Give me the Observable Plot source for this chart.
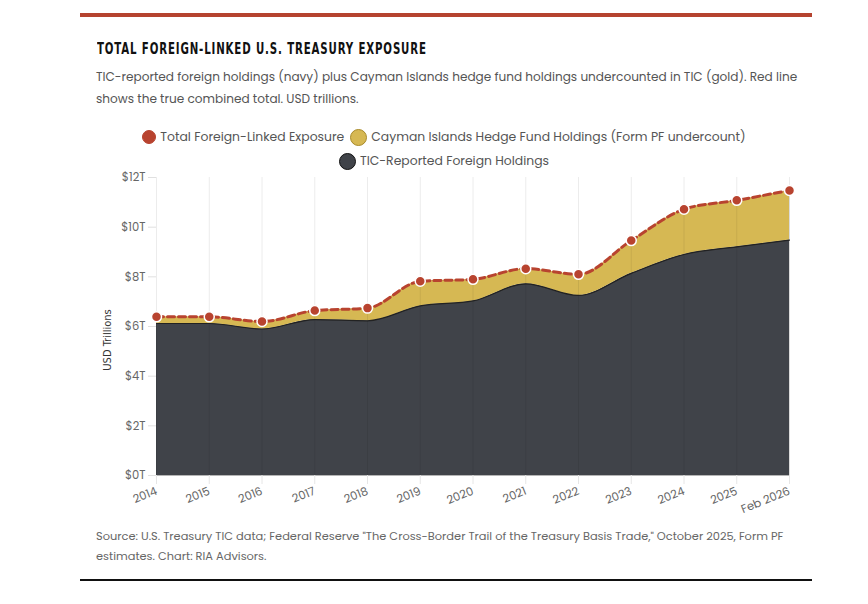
<!DOCTYPE html>
<html>
<head>
<meta charset="utf-8">
<script src="https://cdn.jsdelivr.net/npm/d3@7"></script>
<script src="https://cdn.jsdelivr.net/npm/@observablehq/plot@0.6"></script>
<style>
  html, body { margin: 0; padding: 0; background: #fff; }
  body { width: 868px; height: 604px; position: relative; overflow: hidden; font-family: "Poppins", "Open Sans", sans-serif; }
  .abs { position: absolute; }
  #toprule { left: 80px; top: 13px; width: 732px; height: 4px; background: #b5432f; }
  #botrule { left: 80px; top: 579px; width: 732px; height: 2px; background: #111; }
  #title { left: 97px; top: 39px; font-family: "DejaVu Sans", sans-serif; font-stretch: condensed; font-weight: bold; font-size: 16px; letter-spacing: 1.2px; color: #111; white-space: nowrap; transform: scaleX(0.71); transform-origin: 0 0; }
  #subtitle { left: 96px; top: 66px; width: 720px; font-size: 12.1px; line-height: 22px; color: #555; }
  #legend { left: 96px; width: 696px; top: 125px; font-size: 12.4px; color: #555; text-align: center; line-height: 22px; }
  .row { display: flex; justify-content: center; align-items: center; height: 24px; }
  .item { display: inline-flex; align-items: center; margin: 0 3px; white-space: nowrap; }
  .sw { display: inline-block; border-radius: 50%; margin-right: 4px; box-sizing: border-box; }
  #source { left: 96px; top: 527px; width: 720px; font-size: 11.4px; line-height: 19.5px; color: #666; }
  #ylabel { left: 107px; top: 340px; font-family: "DejaVu Sans", sans-serif; font-stretch: condensed; font-size: 11px; color: #333; transform: translate(-50%, -50%) rotate(-90deg); white-space: nowrap; }
  #chart { left: 0; top: 160px; width: 868px; height: 360px; }
  #chart svg { max-width: none; }
</style>
</head>
<body>
<div id="toprule" class="abs"></div>
<div id="title" class="abs">TOTAL FOREIGN-LINKED U.S. TREASURY EXPOSURE</div>
<div id="subtitle" class="abs">TIC-reported foreign holdings (navy) plus Cayman Islands hedge fund holdings undercounted in TIC (gold). Red line shows the true combined total. USD trillions.</div>
<div id="legend" class="abs"></div>
<div id="chart" class="abs"></div>
<div id="ylabel" class="abs">USD Trillions</div>
<div id="source" class="abs">Source: U.S. Treasury TIC data; Federal Reserve "The Cross-Border Trail of the Treasury Basis Trade," October 2025, Form PF estimates. Chart: RIA Advisors.</div>
<div id="botrule" class="abs"></div>
<script>
// ---- data ----
const years = ["2014","2015","2016","2017","2018","2019","2020","2021","2022","2023","2024","2025","Feb 2026"];
const ticValues = [6.12, 6.12, 5.90, 6.28, 6.23, 6.83, 7.03, 7.72, 7.25, 8.14, 8.90, 9.21, 9.48];
const caymanValues = [0.27, 0.27, 0.30, 0.36, 0.51, 0.99, 0.87, 0.61, 0.85, 1.32, 1.82, 1.87, 2.00];
const yTicks = [0, 2, 4, 6, 8, 10, 12];
const seriesNames = ["Total Foreign-Linked Exposure", "Cayman Islands Hedge Fund Holdings (Form PF undercount)", "TIC-Reported Foreign Holdings"];

// ---- colours ----
const RED = "#b8432f", GOLD = "#d6b853", NAVY = "#404349";

const rows = years.map((y, i) => ({
  year: y,
  tic: ticValues[i],
  cayman: caymanValues[i],
  total: ticValues[i] + caymanValues[i]
}));

// legend
const legendItems = [
  {name: seriesNames[0], fill: RED, stroke: RED, size: 14},
  {name: seriesNames[1], fill: GOLD, stroke: "#a88a2a", size: 17},
  {name: seriesNames[2], fill: NAVY, stroke: "#111", size: 17}
];
const lg = document.getElementById("legend");
const rowEls = [document.createElement("div"), document.createElement("div")];
rowEls.forEach(r => { r.className = "row"; lg.appendChild(r); });
legendItems.forEach((it, i) => {
  const s = document.createElement("span");
  s.className = "item";
  s.innerHTML = `<span class="sw" style="background:${it.fill};border:1.5px solid ${it.stroke};width:${it.size}px;height:${it.size}px"></span>${it.name}`;
  rowEls[i === 2 ? 1 : 0].appendChild(s);
});

const curve = "monotone-x";
const chart = Plot.plot({
  width: 868,
  height: 360,
  marginLeft: 156,
  marginRight: 79,
  marginTop: 17,
  marginBottom: 45,
  style: {fontFamily: "'Poppins','Open Sans',sans-serif", fontSize: "11px", color: "#666", background: "transparent"},
  x: {type: "point", domain: years, padding: 0, round: false, label: null},
  y: {domain: [0, 12], label: null},
  marks: [
    Plot.ruleY(yTicks, {stroke: "#e6e6e6", x1: years[0], x2: years[years.length-1]}),
    Plot.ruleX(years, {stroke: "#ececec", y1: 0, y2: 12}),
    Plot.areaY(rows, {x: "year", y1: 0, y2: "tic", fill: NAVY, curve}),
    Plot.areaY(rows, {x: "year", y1: "tic", y2: "total", fill: GOLD, curve}),
    Plot.ruleX(years, {stroke: "#000", strokeOpacity: 0.07, y1: 0, y2: (d, i) => rows[i].total}),
    Plot.lineY(rows, {x: "year", y: "tic", stroke: "#222", strokeWidth: 1.2, curve}),
    Plot.ruleY([0], {stroke: "#b5b5b5", strokeWidth: 1.2}),
    Plot.lineY(rows, {x: "year", y: "total", stroke: RED, strokeWidth: 3, strokeDasharray: "7,4", curve}),
    Plot.dot(rows, {x: "year", y: "total", r: 5, fill: RED, stroke: "#fff", strokeWidth: 1.5}),
    Plot.axisY(yTicks, {tickFormat: d => `$${d}T`, tickSize: 8, tickPadding: 3, stroke: "#e0e0e0", fill: "#666", label: null, fontSize: 11.5}),
    Plot.axisX(years, {tickRotate: -22, tickSize: 9, tickPadding: 6, stroke: "#e6e6e6", fill: "#666", label: null, fontSize: 11.5})
  ]
});
document.getElementById("chart").appendChild(chart);
</script>
</body>
</html>
